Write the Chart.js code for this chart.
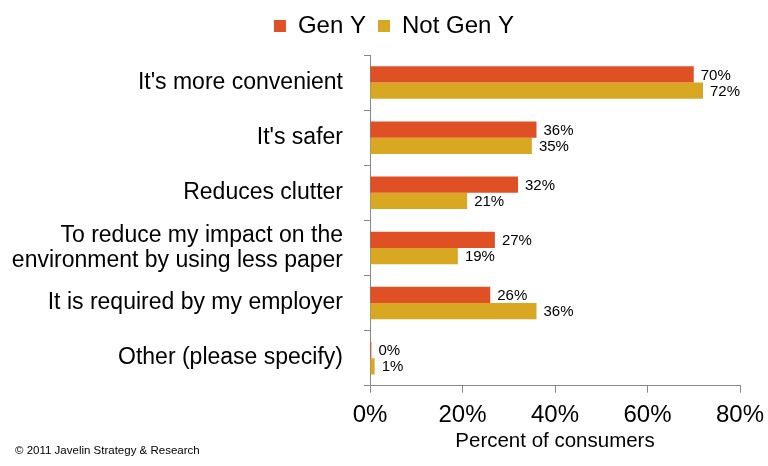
<!DOCTYPE html>
<html>
<head>
<meta charset="utf-8">
<script src="https://cdn.jsdelivr.net/npm/chart.js@4/dist/chart.umd.min.js"></script>
<style>
  html, body { margin: 0; padding: 0; background: #fff; }
  #wrap { position: relative; width: 768px; height: 466px; }
</style>
</head>
<body>
<div id="wrap"><canvas id="Chart" width="768" height="466"></canvas></div>
<script>
var categories = [
  "It's more convenient",
  "It's safer",
  "Reduces clutter",
  ["To reduce my impact on the", "environment by using less paper"],
  "It is required by my employer",
  "Other (please specify)"
];
var labelGenY = "Gen Y";
var labelNotGenY = "Not Gen Y";
var dataGenY = [70, 36, 32, 27, 26, 0.3];
var dataNotGenY = [72, 35, 21, 19, 36, 1];
var shownGenY = [70, 36, 32, 27, 26, 0];
var shownNotGenY = [72, 35, 21, 19, 36, 1];
var xTicks = [0, 20, 40, 60, 80];
var copyright = "\u00a9 2011 Javelin Strategy & Research";

var FONT = "'Liberation Sans', Arial, sans-serif";

// value labels to the right of each bar
var valueLabels = {
  id: "valueLabels",
  afterDatasetsDraw: function (chart) {
    var ctx = chart.ctx;
    var shown = [shownGenY, shownNotGenY];
    ctx.save();
    ctx.font = "15px " + FONT;
    ctx.fillStyle = "#000";
    ctx.textBaseline = "middle";
    ctx.textAlign = "left";
    chart.data.datasets.forEach(function (ds, di) {
      chart.getDatasetMeta(di).data.forEach(function (bar, i) {
        ctx.fillText(shown[di][i] + "%", bar.x + 7, bar.y + 1);
      });
    });
    ctx.restore();
  }
};

// legend in the original sits a bit right of centre and higher up
var legendShift = {
  id: "legendShift",
  afterLayout: function (chart) {
    chart.legend.left += 19;
    chart.legend.right += 19;
    chart.legend.top -= 7;
    chart.legend.bottom -= 7;
  }
};

var footer = {
  id: "footer",
  afterDraw: function (chart) {
    var ctx = chart.ctx;
    ctx.save();
    ctx.font = "11.5px " + FONT;
    ctx.fillStyle = "#000";
    ctx.textBaseline = "middle";
    ctx.fillText(copyright, 15, 451);
    ctx.restore();
  }
};

function initializeChart() {
  var ctx = document.getElementById("Chart").getContext("2d");
  if (window.myChart) window.myChart.destroy();

  window.myChart = new Chart(ctx, {
    type: "bar",
    data: {
      labels: categories,
      datasets: [
        {
          label: labelGenY,
          data: dataGenY,
          backgroundColor: "#E05025",
          borderWidth: 0,
          categoryPercentage: 0.59,
          barPercentage: 1.0
        },
        {
          label: labelNotGenY,
          data: dataNotGenY,
          backgroundColor: "#D8A822",
          borderWidth: 0,
          categoryPercentage: 0.59,
          barPercentage: 1.0
        }
      ]
    },
    options: {
      indexAxis: "y",
      animation: false,
      responsive: false,
      layout: { padding: { left: 10, right: 28, top: 9, bottom: 14 } },
      scales: {
        x: {
          min: 0,
          max: 80,
          afterBuildTicks: function (axis) {
            axis.ticks = xTicks.map(function (v) { return { value: v }; });
          },
          afterFit: function (axis) {
            axis.paddingLeft = 0;
            axis.paddingRight = 0;
          },
          ticks: {
            color: "#000",
            font: { size: 24, family: FONT },
            padding: 8,
            callback: function (v) { return v + "%"; }
          },
          grid: {
            drawOnChartArea: false,
            drawTicks: true,
            tickLength: 7,
            color: "#888"
          },
          border: { color: "#888", width: 1 },
          title: {
            display: true,
            text: "Percent of consumers",
            color: "#000",
            font: { size: 20.5, family: FONT, lineHeight: 1.0 },
            padding: { top: -6, bottom: 0 }
          }
        },
        y: {
          afterFit: function (axis) {
            axis.width = 360;
          },
          ticks: {
            color: "#000",
            font: { size: 23, family: FONT, lineHeight: 1.1 },
            padding: 21
          },
          grid: {
            offset: true,
            drawOnChartArea: false,
            drawTicks: true,
            tickLength: 6,
            color: "#888"
          },
          border: { color: "#888", width: 1 }
        }
      },
      plugins: {
        legend: {
          display: true,
          position: "top",
          labels: {
            color: "#000",
            boxWidth: 12,
            boxHeight: 12,
            padding: 12,
            font: { size: 24, family: FONT }
          }
        },
        tooltip: { enabled: false }
      }
    },
    plugins: [valueLabels, legendShift, footer]
  });
}

window.onload = function () {
  initializeChart();
};
</script>
</body>
</html>
